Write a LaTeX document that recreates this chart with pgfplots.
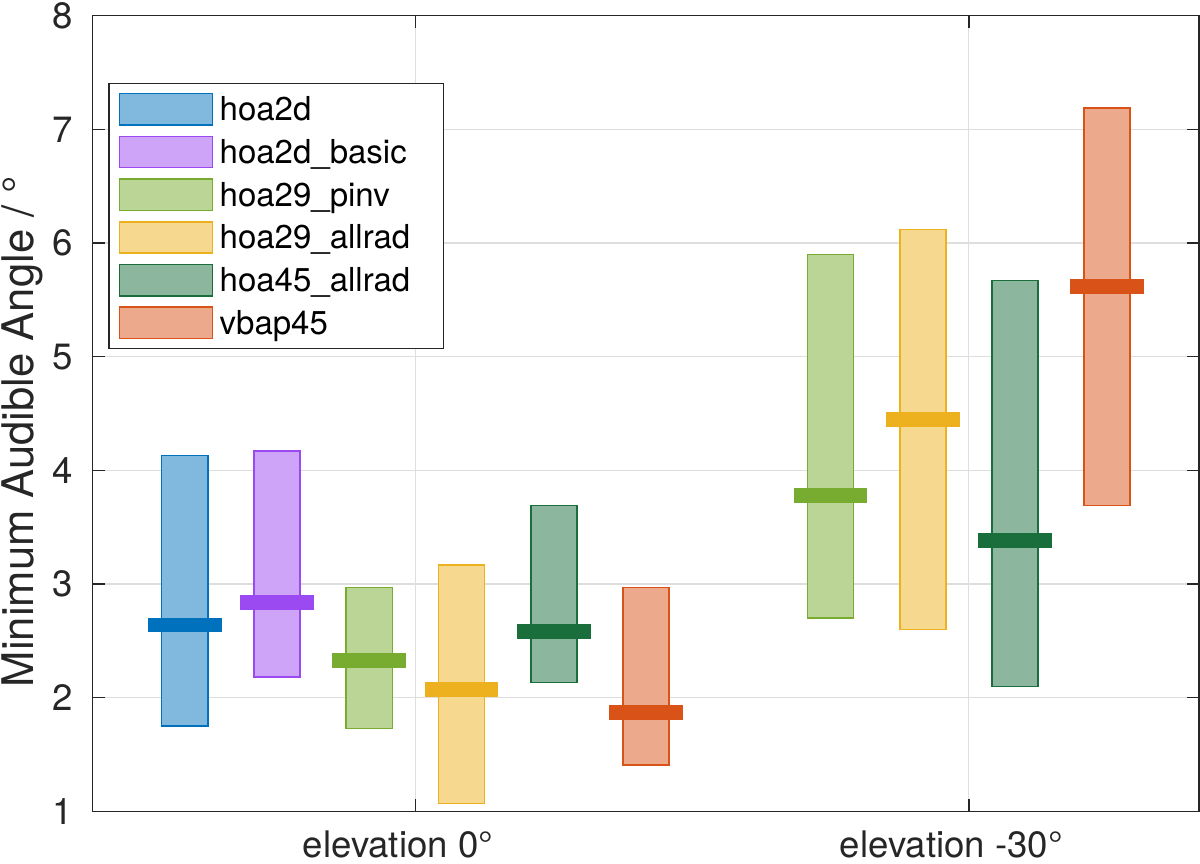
\documentclass[border=0pt]{standalone}
\usepackage{fontspec}
\setmainfont{TeX Gyre Heros}
\usepackage{pgfplots}
\pgfplotsset{compat=1.18}
\usepgfplotslibrary{statistics}

\definecolor{axc}{RGB}{38,38,38}
\definecolor{gridc}{RGB}{222,222,222}
\definecolor{c1}{RGB}{0,114,189}
\definecolor{c2}{RGB}{155,73,240}
\definecolor{c3}{RGB}{119,172,48}
\definecolor{c4}{RGB}{237,177,32}
\definecolor{c5}{RGB}{26,110,60}
\definecolor{c6}{RGB}{217,83,25}

\begin{document}
\begin{tikzpicture}
\begin{axis}[
  scale only axis, width=553.15pt, height=397.8pt,
  xmin=0.417, xmax=2.416, ymin=1, ymax=8,
  xtick={1,2}, xticklabels={elevation 0°, elevation -30°},
  ytick={1,2,...,8},
  /pgf/number format/assume math mode=true,
  tick align=inside, major tick length=6pt,
  every tick/.style={axc, line width=0.65pt},
  axis line style={axc, line width=0.65pt},
  grid=major, major grid style={gridc, line width=0.6pt},
  ticklabel style={font=\fontsize{18.3pt}{22pt}\selectfont, text=axc},
  xticklabel style={anchor=base, yshift=-23.3pt, xshift=-8.75pt},
  yticklabel style={anchor=east, inner sep=0pt, xshift=-9.7pt},
  ylabel={Minimum Audible Angle / °},
  ylabel style={font=\fontsize{21.8pt}{26pt}\selectfont, text=axc, at={([xshift=-29.7pt,yshift=-9pt]axis description cs:0,0.5)}, anchor=base},
  legend image code/.code={\draw[#1] (0pt,-7.825pt) rectangle (46.5pt,7.825pt);},
  legend cell align=left,
  legend style={at={(axis description cs:0.0141,0.9154)}, anchor=north west,
    draw=axc, line width=0.65pt, fill=white,
    font=\fontsize{16.5pt}{19pt}\selectfont,
    inner xsep=4.85pt, inner ysep=4.6pt, row sep=4.9pt, column sep=3.2pt,
    nodes={inner sep=0pt, text height=13.3pt, text depth=2pt, text width=107.1pt, align=left}},
  boxplot/draw direction=y,
  boxplot/draw/lower whisker/.code={},
  boxplot/draw/upper whisker/.code={},
  boxplot/draw/median/.code={\draw[/pgfplots/boxplot/every median/.try]
     (boxplot box cs:\pgfplotsboxplotvalue{median},-0.3) -- (boxplot box cs:\pgfplotsboxplotvalue{median},1.3);},
]
\addlegendimage{draw=c1, fill=c1!50!white, line width=0.8pt}
\addlegendimage{draw=c2, fill=c2!50!white, line width=0.8pt}
\addlegendimage{draw=c3, fill=c3!50!white, line width=0.8pt}
\addlegendimage{draw=c4, fill=c4!50!white, line width=0.8pt}
\addlegendimage{draw=c5, fill=c5!50!white, line width=0.8pt}
\addlegendimage{draw=c6, fill=c6!50!white, line width=0.8pt}
\legend{hoa2d, hoa2d\_basic, hoa29\_pinv, hoa29\_allrad, hoa45\_allrad, vbap45}

% elevation 0
\addplot[draw=c1, fill=c1!50!white, line width=0.8pt, boxplot/every median/.style={draw=c1, line width=7.35pt},
  boxplot prepared={draw position=0.5833, lower whisker=1.75, lower quartile=1.75, median=2.64, upper quartile=4.13, upper whisker=4.13, box extend=0.0833}] coordinates {};
\addplot[draw=c2, fill=c2!50!white, line width=0.8pt, boxplot/every median/.style={draw=c2, line width=7.35pt},
  boxplot prepared={draw position=0.75, lower whisker=2.18, lower quartile=2.18, median=2.84, upper quartile=4.17, upper whisker=4.17, box extend=0.0833}] coordinates {};
\addplot[draw=c3, fill=c3!50!white, line width=0.8pt, boxplot/every median/.style={draw=c3, line width=7.35pt},
  boxplot prepared={draw position=0.9167, lower whisker=1.73, lower quartile=1.73, median=2.33, upper quartile=2.97, upper whisker=2.97, box extend=0.0833}] coordinates {};
\addplot[draw=c4, fill=c4!50!white, line width=0.8pt, boxplot/every median/.style={draw=c4, line width=7.35pt},
  boxplot prepared={draw position=1.0833, lower whisker=1.07, lower quartile=1.07, median=2.07, upper quartile=3.17, upper whisker=3.17, box extend=0.0833}] coordinates {};
\addplot[draw=c5, fill=c5!50!white, line width=0.8pt, boxplot/every median/.style={draw=c5, line width=7.35pt},
  boxplot prepared={draw position=1.25, lower whisker=2.135, lower quartile=2.135, median=2.58, upper quartile=3.69, upper whisker=3.69, box extend=0.0833}] coordinates {};
\addplot[draw=c6, fill=c6!50!white, line width=0.8pt, boxplot/every median/.style={draw=c6, line width=7.35pt},
  boxplot prepared={draw position=1.4167, lower whisker=1.41, lower quartile=1.41, median=1.87, upper quartile=2.97, upper whisker=2.97, box extend=0.0833}] coordinates {};
% elevation -30
\addplot[draw=c3, fill=c3!50!white, line width=0.8pt, boxplot/every median/.style={draw=c3, line width=7.35pt},
  boxplot prepared={draw position=1.75, lower whisker=2.70, lower quartile=2.70, median=3.78, upper quartile=5.90, upper whisker=5.90, box extend=0.0833}] coordinates {};
\addplot[draw=c4, fill=c4!50!white, line width=0.8pt, boxplot/every median/.style={draw=c4, line width=7.35pt},
  boxplot prepared={draw position=1.9167, lower whisker=2.60, lower quartile=2.60, median=4.45, upper quartile=6.12, upper whisker=6.12, box extend=0.0833}] coordinates {};
\addplot[draw=c5, fill=c5!50!white, line width=0.8pt, boxplot/every median/.style={draw=c5, line width=7.35pt},
  boxplot prepared={draw position=2.0833, lower whisker=2.10, lower quartile=2.10, median=3.38, upper quartile=5.67, upper whisker=5.67, box extend=0.0833}] coordinates {};
\addplot[draw=c6, fill=c6!50!white, line width=0.8pt, boxplot/every median/.style={draw=c6, line width=7.35pt},
  boxplot prepared={draw position=2.25, lower whisker=3.69, lower quartile=3.69, median=5.62, upper quartile=7.19, upper whisker=7.19, box extend=0.0833}] coordinates {};

\coordinate (bl) at (rel axis cs:0,0);
\coordinate (tr) at (rel axis cs:1,1);
\end{axis}
\pgfresetboundingbox
\path[use as bounding box] ([xshift=-46.35pt,yshift=-25.85pt]bl) rectangle ([xshift=0.45pt,yshift=7.85pt]tr);
\end{tikzpicture}
\end{document}
